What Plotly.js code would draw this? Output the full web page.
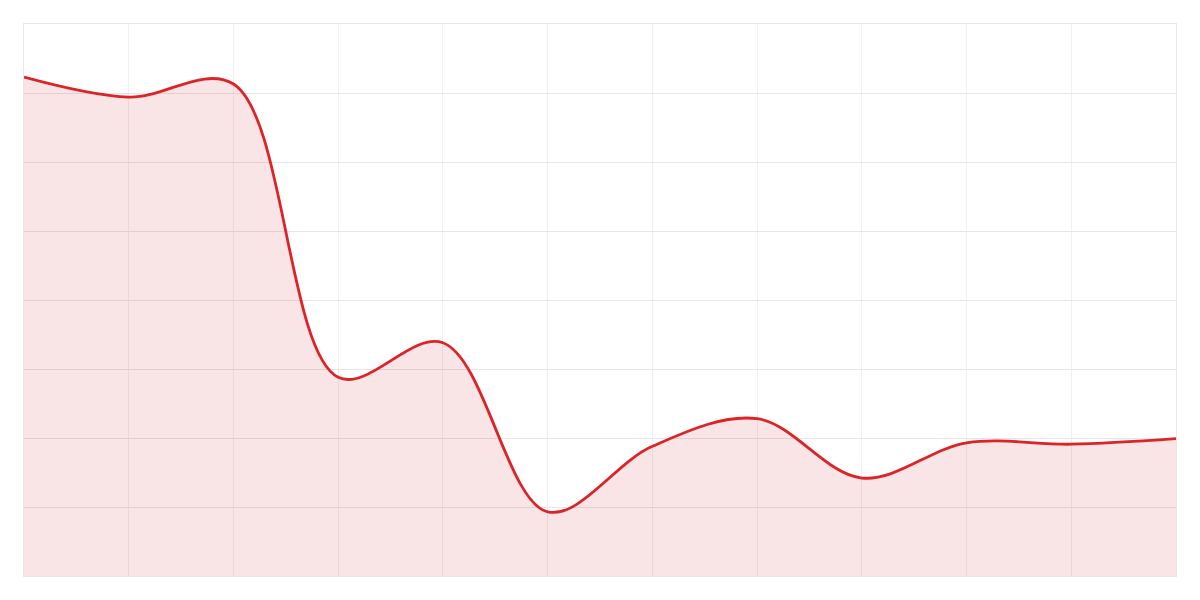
<!DOCTYPE html>
<html>
<head>
<meta charset="utf-8">
<script src="https://cdn.plot.ly/plotly-3.0.1.min.js"></script>
<style>
  html, body { margin: 0; padding: 0; background: #fff; }
  #chart { width: 1200px; height: 600px; }
</style>
</head>
<body>
<div id="chart"></div>
<script>
  const xs = [0, 1, 2, 3, 4, 5, 6, 7, 8, 9, 10, 11];
  const values = [7.23, 6.94, 7.13, 2.88, 3.38, 0.93, 1.88, 2.28, 1.42, 1.93, 1.91, 1.99];

  const trace = {
    x: xs,
    y: values,
    type: "scatter",
    mode: "lines",
    fill: "tozeroy",
    fillcolor: "rgba(205,40,40,0.12)",
    line: { color: "#dc2327", width: 2.8, shape: "spline", smoothing: 1 },
    hoverinfo: "none",
  };

  const layout = {
    width: 1200,
    height: 600,
    margin: { l: 24, r: 24, t: 24, b: 24, pad: 0 },
    paper_bgcolor: "#ffffff",
    plot_bgcolor: "#ffffff",
    showlegend: false,
    xaxis: {
      range: [0, 11],
      dtick: 1,
      showticklabels: false,
      ticks: "",
      gridcolor: "#efefef",
      gridwidth: 1,
      zeroline: false,
      showline: true,
      mirror: true,
      linecolor: "#e6e6e6",
      linewidth: 1,
    },
    yaxis: {
      range: [0, 8],
      dtick: 1,
      showticklabels: false,
      ticks: "",
      gridcolor: "#e6e6e6",
      gridwidth: 1,
      zeroline: false,
      showline: true,
      mirror: true,
      linecolor: "#e6e6e6",
      linewidth: 1,
    },
  };

  Plotly.newPlot("chart", [trace], layout, { displayModeBar: false, staticPlot: true });
</script>
</body>
</html>
